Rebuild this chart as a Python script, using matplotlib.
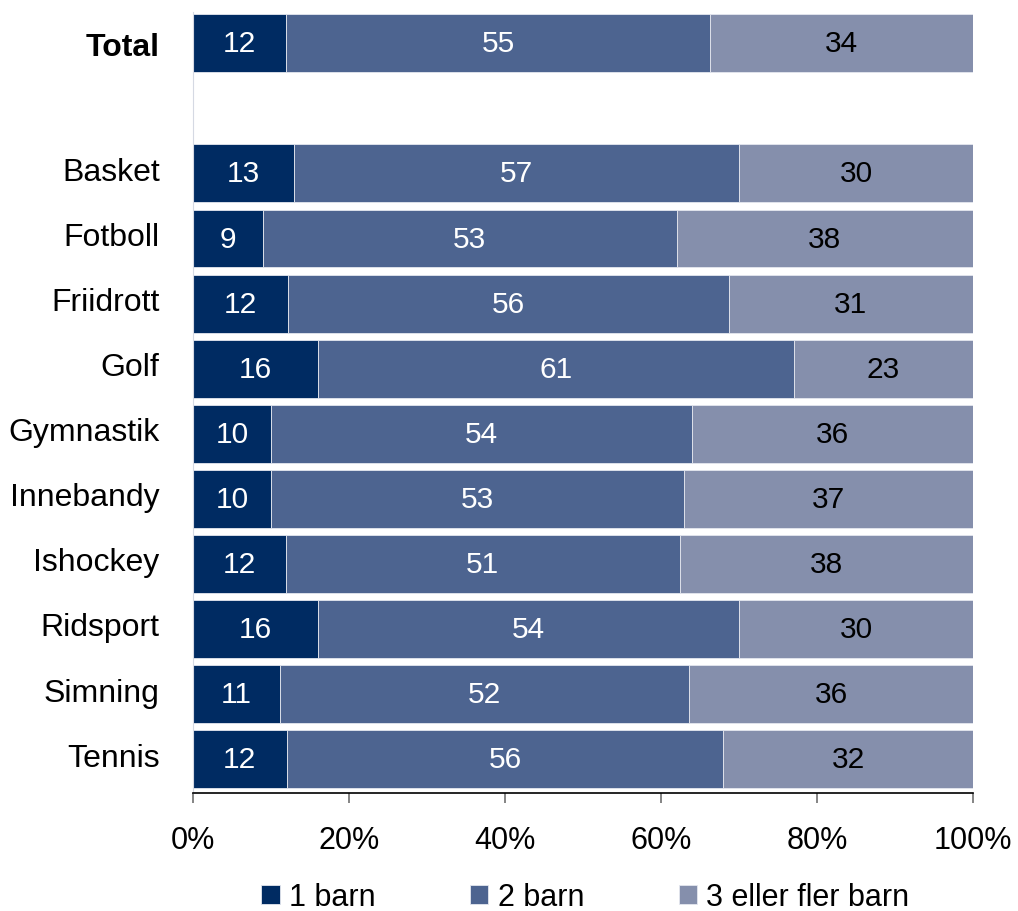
import numpy as np
import matplotlib.pyplot as plt
from matplotlib.transforms import ScaledTranslation

plt.rcParams['font.family'] = ['Liberation Sans', 'DejaVu Sans']

# data (percent)
categories = ["Total", "Basket", "Fotboll", "Friidrott", "Golf", "Gymnastik",
              "Innebandy", "Ishockey", "Ridsport", "Simning", "Tennis"]
one_child = [12, 13, 9, 12, 16, 10, 10, 12, 16, 11, 12]
two_children = [55, 57, 53, 56, 61, 54, 53, 51, 54, 52, 56]
three_plus = [34, 30, 38, 31, 23, 36, 37, 38, 30, 36, 32]
series_names = ["1 barn", "2 barn", "3 eller fler barn"]
colors = ["#002B62", "#4D6490", "#858FAC"]
text_colors = ["white", "white", "black"]

# Total sits on top, one empty slot, then the sports
positions = [0] + list(range(2, 2 + len(categories) - 1))

values = np.array([one_child, two_children, three_plus], dtype=float)
shares = values / values.sum(axis=0)

fig = plt.figure(figsize=(10.18, 9.12), dpi=100)
ax = fig.add_axes([0.1896, 0.1294, 0.7662, 0.8563])

left = np.zeros(len(categories))
for k in range(3):
    bars = ax.barh(positions, shares[k], left=left, height=0.89,
                   color=colors[k], edgecolor="#E4E7EF", linewidth=0.6,
                   label=series_names[k])
    for i, b in enumerate(bars):
        ax.text(left[i] + shares[k][i] / 2, positions[i], f"{int(values[k][i])}",
                ha="center", va="center", fontsize=21.5, color=text_colors[k])
    left += shares[k]

ax.set_xlim(0, 1)
ax.set_ylim(11.52, -0.48)
ax.set_yticks(positions)
ax.set_yticklabels(categories, fontsize=23)
ax.get_yticklabels()[0].set_fontweight("bold")
ax.tick_params(axis="y", length=0, pad=24)
# sport labels sit a little above the bar centre in the original
shift = ScaledTranslation(0, 5 / 100, fig.dpi_scale_trans)
for lbl in ax.get_yticklabels()[1:]:
    lbl.set_transform(lbl.get_transform() + shift)

ax.set_xticks(np.linspace(0, 1, 6))
ax.set_xticklabels([f"{int(v)}%" for v in np.linspace(0, 100, 6)], fontsize=22)
ax.tick_params(axis="x", length=7, width=1.2, color="#707070", pad=16)

for side in ["top", "right"]:
    ax.spines[side].set_visible(False)
ax.spines["left"].set_color("#D5D9E3")
ax.spines["bottom"].set_color("black")
ax.spines["bottom"].set_linewidth(1.2)

fig.legend(loc="center", bbox_to_anchor=(0.575, 0.015), ncol=3, frameon=False,
           fontsize=22, handlelength=0.6, handleheight=0.6, handletextpad=0.3,
           columnspacing=3.1)

fig.savefig("out.png", dpi=100)
